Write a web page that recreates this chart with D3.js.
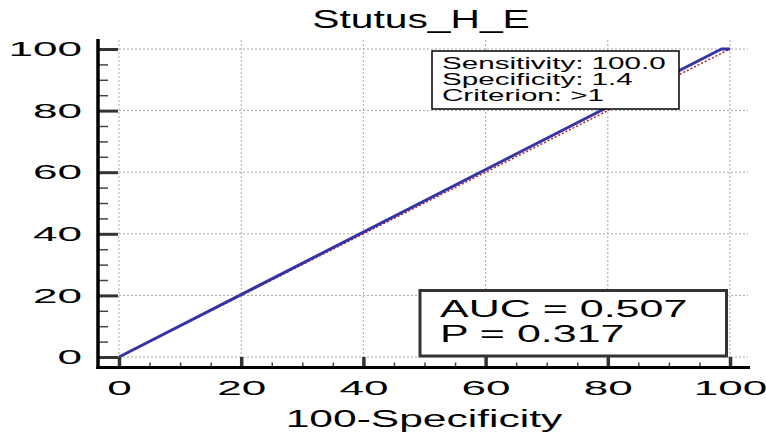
<!DOCTYPE html>
<html>
<head>
<meta charset="utf-8">
<script src="https://cdn.jsdelivr.net/npm/d3@7"></script>
<style>
  html, body { margin: 0; padding: 0; background: #fff; }
  svg { display: block; }
  text { font-family: "Liberation Sans", Arial, sans-serif; fill: #000; }
</style>
</head>
<body>
<svg id="chart" width="766" height="433"></svg>
<script>
// ---- data ----
const chartTitle = "Stutus_H_E";
const xAxisTitle = "100-Specificity";
const majorTicks = [0, 20, 40, 60, 80, 100];
const minorTicks = [5, 10, 15, 25, 30, 35, 45, 50, 55, 65, 70, 75, 85, 90, 95];
const rocFPR = [0, 98.6, 100];      // 100-Specificity
const rocTPR = [0, 100, 100];       // Sensitivity
const refFPR = [0, 100];
const refTPR = [0, 100];
const infoLines = ["Sensitivity: 100.0", "Specificity: 1.4", "Criterion: >1"];
const statLines = ["AUC = 0.507", "P = 0.317"];

// ---- layout ----
const svg = d3.select("#chart");
const x = d3.scaleLinear().domain([0, 100]).range([119, 730]);
const y = d3.scaleLinear().domain([0, 100]).range([357, 49]);
const axisX = 98;     // y-axis line position
const axisY = 367.5;  // x-axis line position

function stretchText(sel, sx) {
  sel.each(function () {
    const t = d3.select(this);
    const xx = +t.attr("x") || 0;
    t.attr("x", xx / sx).attr("transform", `scale(${sx},1)`);
  });
}

function addText(px, py, str, size, sx, anchor) {
  svg.append("text")
    .attr("transform", `translate(${px},${py}) scale(${sx},1)`)
    .attr("text-anchor", anchor || "start")
    .style("font-size", size + "px")
    .text(str);
}

// ---- grid ----
const grid = svg.append("g").attr("stroke", "#a8a8a8").attr("stroke-width", 1)
  .attr("stroke-dasharray", "2,2");
grid.selectAll("line.v").data(majorTicks).join("line")
  .attr("x1", d => x(d)).attr("x2", d => x(d))
  .attr("y1", 40).attr("y2", y(0));
grid.selectAll("line.h").data(majorTicks).join("line")
  .attr("y1", d => y(d)).attr("y2", d => y(d))
  .attr("x1", x(0)).attr("x2", 748);

// ---- reference diagonal ----
svg.append("path")
  .datum(refFPR.map((v, i) => [v, refTPR[i]]))
  .attr("fill", "none").attr("stroke", "#b02020").attr("stroke-width", 1.5)
  .attr("stroke-dasharray", "2,2")
  .attr("d", d3.line().x(d => x(d[0])).y(d => y(d[1])));

// ---- ROC curve ----
svg.append("path")
  .datum(rocFPR.map((v, i) => [v, rocTPR[i]]))
  .attr("fill", "none").attr("stroke", "#3434a4").attr("stroke-width", 3)
  .attr("stroke-linejoin", "round")
  .attr("d", d3.line().x(d => x(d[0])).y(d => y(d[1])));

// ---- axes ----
const yMinor = svg.append("g").attr("transform", `translate(${axisX},0)`)
  .call(d3.axisLeft(y).tickValues(minorTicks).tickSize(-10).tickSizeOuter(0).tickFormat(""));
yMinor.select(".domain").remove();
yMinor.selectAll("line").attr("stroke", "#444").attr("stroke-width", 1.5);

const yMajor = svg.append("g").attr("transform", `translate(${axisX},0)`)
  .call(d3.axisLeft(y).tickValues(majorTicks).tickSize(-20).tickSizeOuter(0).tickPadding(16));
yMajor.select(".domain").remove();
yMajor.selectAll("line").attr("stroke", "#333").attr("stroke-width", 3);
yMajor.selectAll("text").style("font-size", "21px")
  .style("font-family", '"Liberation Sans", Arial, sans-serif').attr("fill", "#000");
stretchText(yMajor.selectAll("text"), 2.1);

const xMinor = svg.append("g").attr("transform", `translate(0,${axisY})`)
  .call(d3.axisBottom(x).tickValues(minorTicks).tickSize(-5).tickSizeOuter(0).tickFormat(""));
xMinor.select(".domain").remove();
xMinor.selectAll("line").attr("stroke", "#444").attr("stroke-width", 1.5);

const xMajor = svg.append("g").attr("transform", `translate(0,${axisY})`)
  .call(d3.axisBottom(x).tickValues(majorTicks).tickSize(-10.5).tickSizeOuter(0).tickPadding(13));
xMajor.select(".domain").remove();
xMajor.selectAll("line").attr("stroke", "#333").attr("stroke-width", 3.5);
xMajor.selectAll("text").style("font-size", "21px")
  .style("font-family", '"Liberation Sans", Arial, sans-serif').attr("fill", "#000");
stretchText(xMajor.selectAll("text"), 2.1);

// axis lines
svg.append("line").attr("x1", axisX).attr("x2", axisX).attr("y1", 39).attr("y2", axisY + 1.5)
  .attr("stroke", "#000").attr("stroke-width", 3.5);
svg.append("line").attr("x1", axisX - 1.5).attr("x2", 750).attr("y1", axisY).attr("y2", axisY)
  .attr("stroke", "#000").attr("stroke-width", 3);

// ---- info box ----
svg.append("rect").attr("x", 432).attr("y", 51).attr("width", 247).attr("height", 58)
  .attr("fill", "#fff").attr("stroke", "#000").attr("stroke-width", 1.5);
infoLines.forEach((s, i) => addText(442, 69 + i * 16, s, 16, 1.85, "start"));

// ---- stats box ----
svg.append("rect").attr("x", 420).attr("y", 290.5).attr("width", 306.5).attr("height", 65.5)
  .attr("fill", "#fff").attr("stroke", "#333").attr("stroke-width", 3);
statLines.forEach((s, i) => addText(440, 317 + i * 25, s, 23, 1.87, "start"));

// ---- titles ----
addText(421, 28, chartTitle, 25, 1.63, "middle");
addText(424, 427, xAxisTitle, 23, 1.85, "middle");
</script>
</body>
</html>
